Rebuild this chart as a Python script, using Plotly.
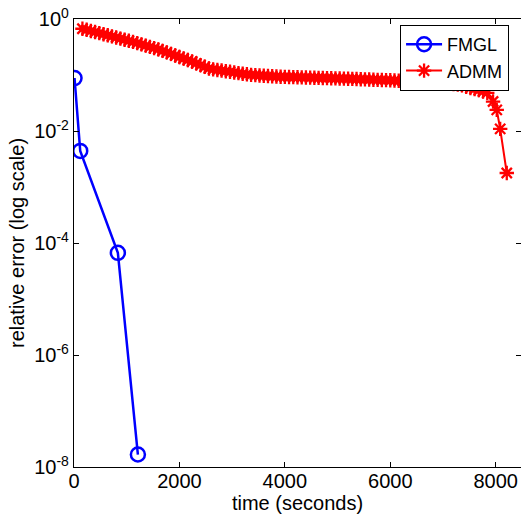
import plotly.graph_objects as go

# FMGL solver: wall-clock time (s) and relative error
fmgl_time = [10, 118, 832, 1212]
fmgl_err = [0.0881, 0.00441, 6.68e-5, 1.67e-8]

# ADMM solver: wall-clock time (s) and relative error per iteration
admm_time = [
    160, 240, 320, 400, 480, 560, 640, 720, 800, 880,
    960, 1040, 1120, 1200, 1280, 1360, 1440, 1520, 1600, 1680,
    1760, 1840, 1920, 2000, 2080, 2160, 2240, 2320, 2400, 2480,
    2560, 2640, 2720, 2800, 2880, 2960, 3040, 3120, 3200, 3280,
    3360, 3440, 3520, 3600, 3680, 3760, 3840, 3920, 4000, 4080,
    4160, 4240, 4320, 4400, 4480, 4560, 4640, 4720, 4800, 4880,
    4960, 5040, 5120, 5200, 5280, 5360, 5440, 5520, 5600, 5680,
    5760, 5840, 5920, 6000, 6080, 6160, 6240, 6320, 6400, 6480,
    6560, 6640, 6720, 6800, 6880, 6960, 7040, 7120, 7200, 7280,
    7360, 7440, 7520, 7600, 7680, 7760, 7840, 7950, 8020, 8085,
    8210,
]
admm_err = [
    0.670, 0.641, 0.612, 0.586, 0.560, 0.535, 0.512, 0.489, 0.468, 0.447,
    0.427, 0.408, 0.390, 0.371, 0.352, 0.335, 0.318, 0.302, 0.287, 0.270,
    0.254, 0.238, 0.223, 0.209, 0.197, 0.185, 0.174, 0.161, 0.150, 0.140,
    0.131, 0.126, 0.123, 0.120, 0.117, 0.114, 0.111, 0.108, 0.105, 0.103,
    0.1005, 0.0993, 0.0982, 0.0971, 0.0959, 0.0948, 0.0938, 0.0929, 0.0925, 0.0920,
    0.0916, 0.0912, 0.0908, 0.0904, 0.0899, 0.0893, 0.0889, 0.0885, 0.0881, 0.0875,
    0.0871, 0.0867, 0.0861, 0.0857, 0.0851, 0.0847, 0.0841, 0.0836, 0.0830, 0.0824,
    0.0818, 0.0815, 0.0809, 0.0804, 0.0796, 0.0789, 0.0782, 0.0776, 0.0769, 0.0762,
    0.0755, 0.0748, 0.0743, 0.0736, 0.0729, 0.0721, 0.0710, 0.0698, 0.0686, 0.0675,
    0.0652, 0.0618, 0.0587, 0.0561, 0.0536, 0.0507, 0.0479, 0.0336, 0.0238, 0.0109,
    0.00178,
]

x_ticks = [0, 2000, 4000, 6000, 8000]
y_ticks = [1e-8, 1e-6, 1e-4, 1e-2, 1]
y_tick_text = ["10<sup>-8</sup>", "10<sup>-6</sup>", "10<sup>-4</sup>",
               "10<sup>-2</sup>", "10<sup>0</sup>"]

FONT = "Liberation Sans, Arial, Helvetica, sans-serif"
FS = 20

fig = go.Figure()
fig.add_trace(go.Scatter(
    x=fmgl_time, y=fmgl_err, name="FMGL", mode="lines+markers",
    line=dict(color="#0000ff", width=2.5),
    marker=dict(symbol="circle-open", size=14, color="#0000ff",
                line=dict(color="#0000ff", width=2.5)),
))
fig.add_trace(go.Scatter(
    x=admm_time, y=admm_err, name="ADMM", mode="lines+markers",
    line=dict(color="#ff0000", width=2),
    marker=dict(symbol="asterisk-open", size=12, color="#ff0000",
                line=dict(color="#ff0000", width=2.3)),
))

axis_common = dict(
    showgrid=False, zeroline=False, showline=True, linecolor="black",
    linewidth=1.2, mirror="ticks", ticks="inside", ticklen=5,
    tickcolor="black", tickwidth=1,
    tickfont=dict(family=FONT, size=FS, color="black"),
)

fig.update_layout(
    width=521, height=515,
    margin=dict(l=74, r=0, t=19, b=48),
    paper_bgcolor="white", plot_bgcolor="white",
    font=dict(family=FONT, size=FS, color="black"),
    xaxis=dict(
        range=[0, 8480], tickvals=x_ticks, ticktext=[str(v) for v in x_ticks],
        ticklabelstandoff=-4,
        title=dict(text="time (seconds)", standoff=2,
                   font=dict(family=FONT, size=FS, color="black")),
        **axis_common,
    ),
    yaxis=dict(
        type="log", range=[-8, 0], tickvals=y_ticks, ticktext=y_tick_text,
        title=dict(text="relative error (log scale)", standoff=4,
                   font=dict(family=FONT, size=FS, color="black")),
        **axis_common,
    ),
    legend=dict(
        x=0.729, y=0.987, xanchor="left", yanchor="top",
        bgcolor="white", bordercolor="black", borderwidth=1.2,
        font=dict(family=FONT, size=18, color="black"),
        tracegroupgap=0, itemwidth=36,
    ),
    showlegend=True,
)

fig.write_html("out.html")
